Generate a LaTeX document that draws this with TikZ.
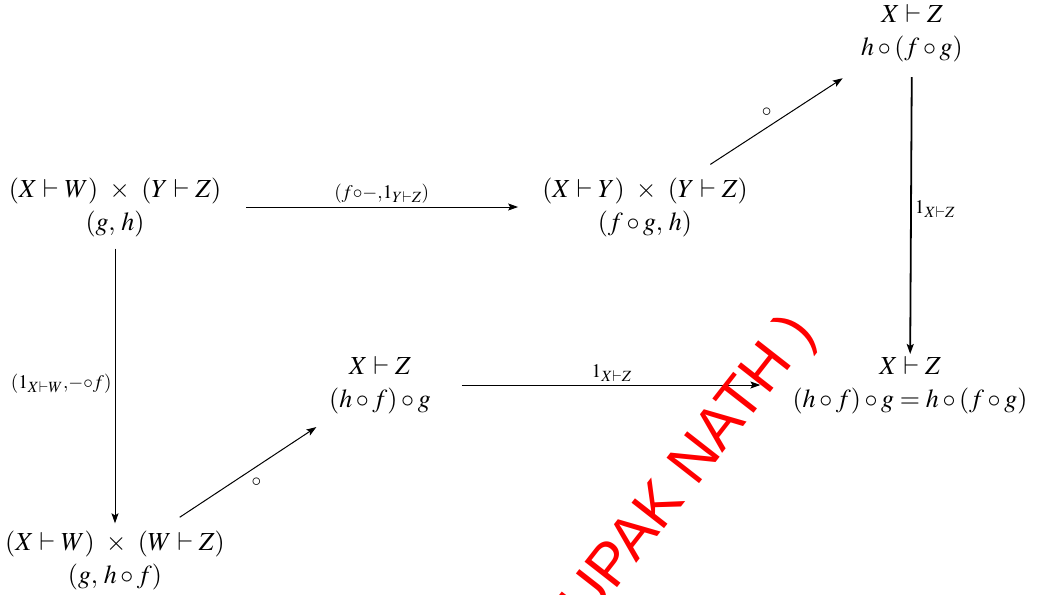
\documentclass[tikz,border=0pt]{standalone}
\usepackage{fontspec}
\usepackage{mathptmx}
\newfontfamily\wmfont{Liberation Sans}
\usetikzlibrary{arrows.meta}
\tikzset{
  obj/.style={align=center, font=\fontsize{26}{33}\selectfont, inner sep=2pt},
  lbl/.style={font=\fontsize{26}{33}\selectfont, inner sep=3pt},
  arr/.style={-{Stealth[length=10pt,width=7pt,inset=2pt]}, line width=1pt},
}
\begin{document}
\begin{tikzpicture}[x=1pt,y=-1pt]
\useasboundingbox (0,0) rectangle (1040,594);
\node[obj] (A) at (115,207) {$(X\vdash W)\ \times\ (Y\vdash Z)$\\$(g,\,h)$};
\node[obj] (B) at (645,207) {$(X\vdash Y)\ \times\ (Y\vdash Z)$\\$(f\circ g,\,h)$};
\node[obj] (C) at (912,33) {$X\vdash Z$\\$h\circ(f\circ g)$};
\node[obj] (D) at (910,385) {$X\vdash Z$\\$(h\circ f)\circ g=h\circ(f\circ g)$};
\node[obj] (E) at (380,385) {$X\vdash Z$\\$(h\circ f)\circ g$};
\node[obj] (F) at (115,560) {$(X\vdash W)\ \times\ (W\vdash Z)$\\$(g,\,h\circ f)$};

\draw[arr, shorten <=23pt, shorten >=22pt] (A) -- node[lbl,above]{$\scriptstyle(f\circ -,1_{Y\vdash Z})$} (B);
\draw[arr, shorten <=10pt, shorten >=5pt] (A) -- node[lbl,left]{$\scriptstyle(1_{X\vdash W},-\circ f)$} (F);
\draw[arr, shorten <=20pt, shorten >=20pt] (F) -- node[lbl,below right, yshift=-2pt]{$\scriptstyle\circ$} (E);
\draw[arr, shorten <=20pt, shorten >=26pt] (B) -- node[lbl,above left, xshift=-4pt]{$\scriptstyle\circ$} (C);
\draw[arr, line width=1.8pt, shorten <=13pt] (C) -- node[lbl,right]{$\scriptstyle 1_{X\vdash Z}$} (D);
\draw[arr, shorten <=29pt, shorten >=30pt] (E) -- node[lbl,above]{$\scriptstyle 1_{X\vdash Z}$} (D);

\node[text=red, font=\wmfont\fontsize{60}{64}\selectfont, rotate=52] (W) at (690,470) {UPAK NATH )};
\end{tikzpicture}
\end{document}
